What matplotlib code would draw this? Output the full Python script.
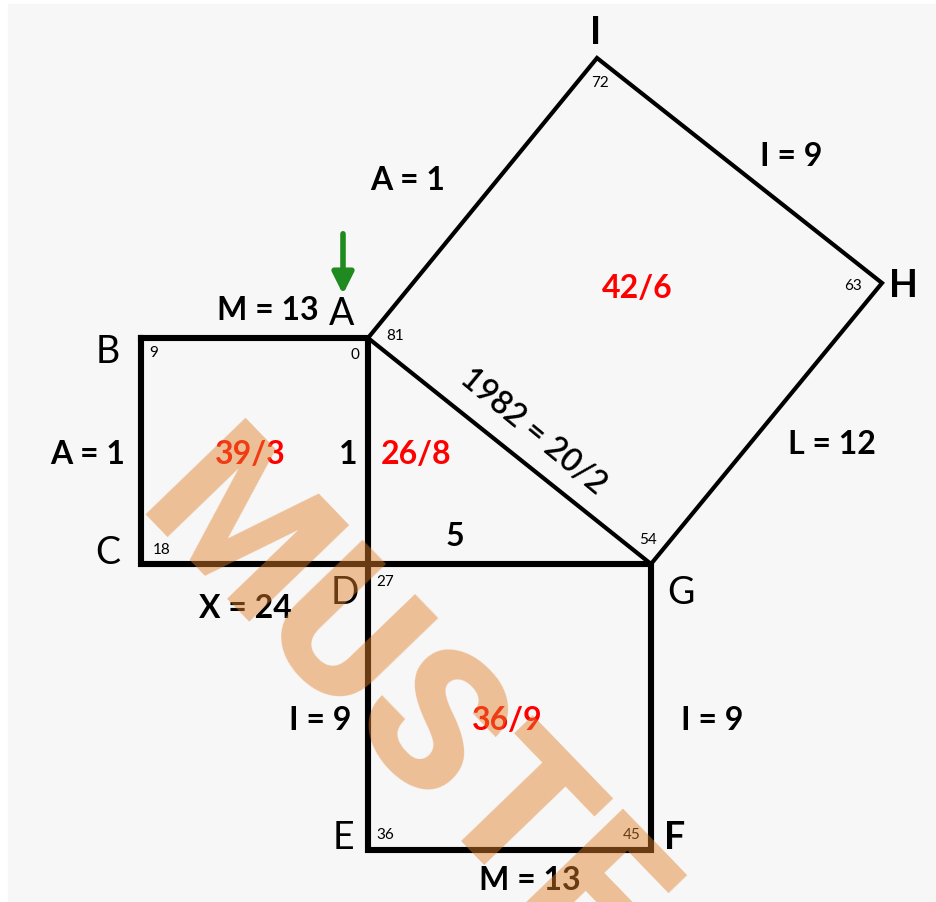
import numpy as np
import matplotlib.pyplot as plt
from matplotlib.patches import Rectangle

# vertex positions (picture pixels, y downwards)
names = ['A', 'B', 'C', 'D', 'E', 'F', 'G', 'H', 'I']
px = [368, 141, 141, 368, 368, 651, 651, 882, 597]
py = [338, 338, 564, 564, 850, 850, 564, 283, 58]
pt = dict(zip(names, zip(px, py)))

small_squares = ['BADC', 'DGFE']
big_square = 'AIHG'

# vertex letters and their positions
vert_text = ['I', 'H', 'A', 'B', 'C', 'D', 'G', 'E', 'F']
vert_x = [596, 903, 342, 108, 108, 345, 681, 343, 675]
vert_y = [33, 286, 314, 352, 553, 593, 593, 838, 838]

# small corner numbers
corner_text = ['72', '63', '81', '9', '0', '18', '27', '54', '36', '45']
corner_x = [600, 853, 395, 154, 355, 162, 385, 648, 385, 632]
corner_y = [83, 286, 336, 353, 355, 550, 582, 540, 835, 835]

# black side labels
side_text = ['A = 1', 'I = 9', 'M = 13', 'A = 1', '1', 'L = 12', '5',
             'X = 24', 'I = 9', 'I = 9', 'M = 13']
side_x = [408, 791, 268, 88, 348, 832, 455, 245, 320, 712, 530]
side_y = [181, 157, 310, 455, 455, 445, 537, 608, 720, 720, 880]

# red area labels
red_text = ['42/6', '39/3', '26/8', '36/9']
red_x = [637, 250, 416, 507]
red_y = [288, 455, 455, 720]

fig = plt.figure(figsize=(9.36, 9.02), dpi=100)
fig.patch.set_facecolor('white')
ax = fig.add_axes([0, 0, 1, 1])
ax.set_xlim(0, 936)
ax.set_ylim(902, 0)
ax.axis('off')

ax.add_patch(Rectangle((8, 4), 940, 910, color='#f7f7f7', zorder=0))

for sq in small_squares:
    xs = [pt[c][0] for c in sq + sq[0]]
    ys = [pt[c][1] for c in sq + sq[0]]
    ax.plot(xs, ys, color='black', lw=4.4, solid_joinstyle='miter', zorder=2)

xs = [pt[c][0] for c in big_square + big_square[0]]
ys = [pt[c][1] for c in big_square + big_square[0]]
ax.plot(xs, ys, color='black', lw=3.0, solid_joinstyle='miter', zorder=2)

font = 'Lato'
for t, x, y in zip(vert_text, vert_x, vert_y):
    w = 'bold' if t in 'IHF' else 'normal'
    ax.text(x, y, t, fontsize=27, family=font, weight=w, ha='center', va='center', zorder=3)
for t, x, y in zip(corner_text, corner_x, corner_y):
    ax.text(x, y, t, fontsize=11, family=font, ha='center', va='center', zorder=3)
for t, x, y in zip(side_text, side_x, side_y):
    ax.text(x, y, t, fontsize=23, family=font, weight='bold', ha='center', va='center', zorder=3)
for t, x, y in zip(red_text, red_x, red_y):
    ax.text(x, y, t, fontsize=23, family=font, weight='bold', color='#ff0000',
            ha='center', va='center', zorder=3)

# label along the hypotenuse
ang = -np.degrees(np.arctan2(pt['G'][1] - pt['A'][1], pt['G'][0] - pt['A'][0]))
ax.text(533, 432, '1982 = 20/2', fontsize=23, family=font, weight='semibold',
        rotation=ang - 1, rotation_mode='anchor', ha='center', va='center', zorder=3)

# green arrow above A
ax.annotate('', xy=(343, 297), xytext=(343, 231),
            arrowprops=dict(arrowstyle='-|>', color='#1f8a1f', lw=4, mutation_scale=32),
            zorder=3)

# watermark
ax.text(360, 748, 'MUSTF', fontsize=140, family='Roboto', weight='black', color='#e07f2a',
        alpha=0.47, rotation=-46, rotation_mode='anchor', ha='center', va='baseline',
        zorder=5)

fig.savefig('out.png', dpi=100, facecolor='white')
